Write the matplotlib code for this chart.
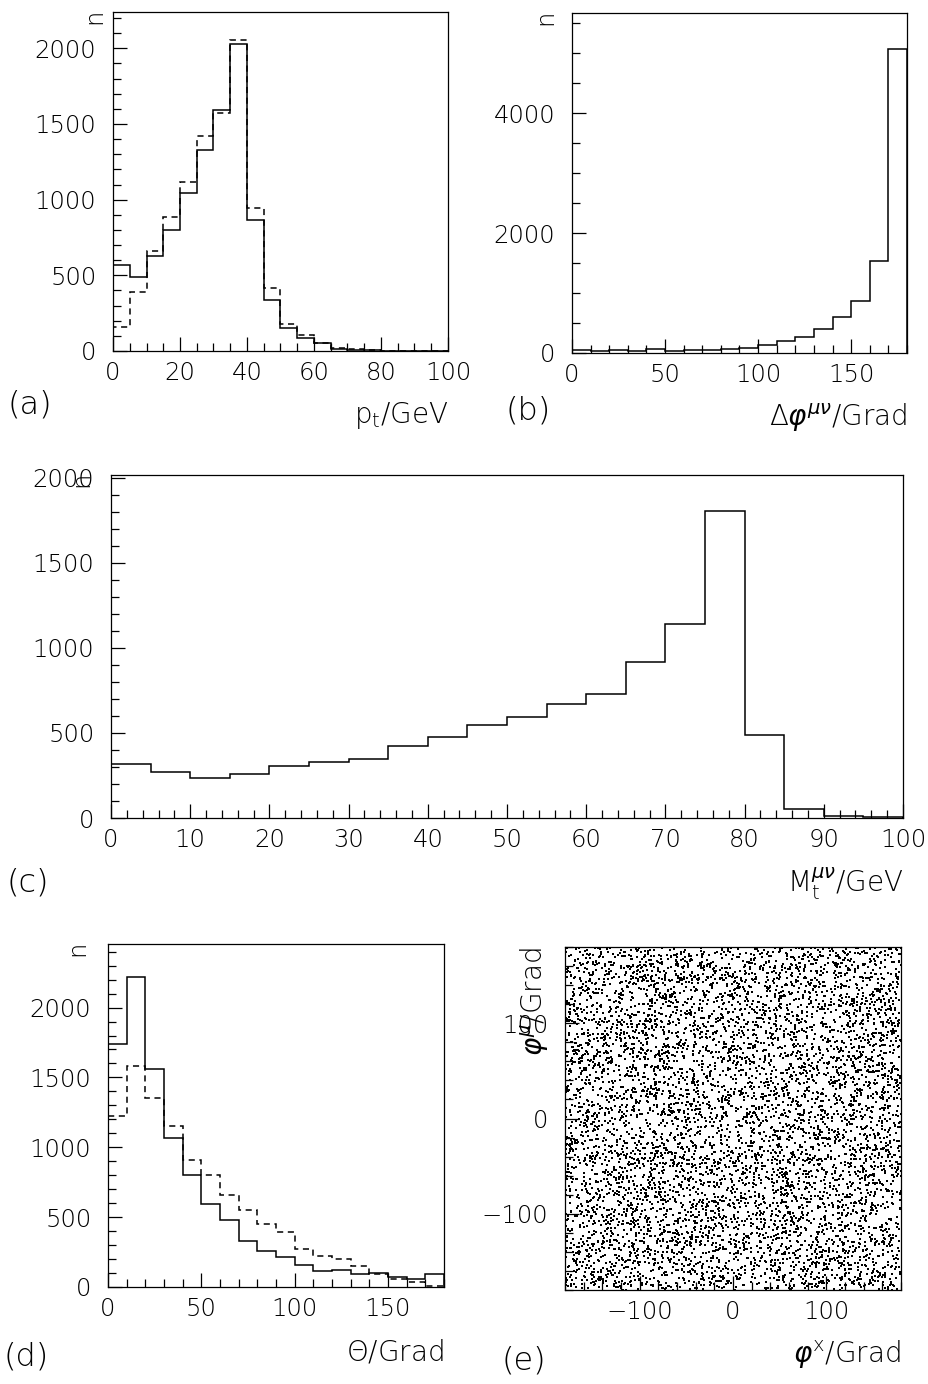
import numpy as np
import matplotlib
matplotlib.use("Agg")
import matplotlib.pyplot as plt
from matplotlib.ticker import MultipleLocator

# ---- data ----
# (a) transverse momentum, 5 GeV bins
pt_edges = np.linspace(0, 100, 21)
pt_solid = [569, 492, 631, 801, 1042, 1329, 1593, 2026, 867, 335,
            154, 88, 53, 15, 4, 4, 2, 0, 0, 0]
pt_dashed = [159, 391, 662, 887, 1117, 1419, 1571, 2057, 947, 413,
             181, 104, 53, 22, 11, 5, 1, 0, 0, 0]

# (b) azimuthal difference, 10 deg bins
dphi_edges = np.linspace(0, 180, 19)
dphi_counts = [45, 33, 50, 33, 67, 39, 45, 50, 67, 84,
               139, 206, 273, 407, 607, 869, 1532, 5069]

# (c) transverse mass, 5 GeV bins
mt_edges = np.linspace(0, 100, 21)
mt_counts = [318, 269, 233, 259, 308, 327, 349, 422, 477, 549,
             595, 667, 728, 918, 1140, 1805, 485, 51, 12, 3]

# (d) polar angle, 10 deg bins
theta_edges = np.linspace(0, 180, 19)
theta_solid = [1738, 2220, 1563, 1067, 800, 597, 482, 327, 258, 215,
               160, 112, 124, 93, 98, 72, 55, 91]
theta_dashed = [1222, 1580, 1353, 1150, 907, 800, 656, 549, 453, 394,
                270, 220, 200, 148, 91, 60, 36, 5]

# (e) phi_x vs phi_mu: a flat Monte Carlo cloud; single points can't be read,
# so a uniform sample of about the same size stands in for it
n_events = 7000
rng = np.random.default_rng(7)
phi_x = rng.uniform(-180, 180, n_events)
phi_mu = rng.uniform(-180, 180, n_events)

# ---- figure ----
W, H = 929, 1384
plt.rcParams["font.family"] = ["DejaVu Sans"]
plt.rcParams["font.weight"] = "light"
plt.rcParams["mathtext.fontset"] = "dejavusans"
fig = plt.figure(figsize=(W / 100, H / 100), dpi=100)

FS = 17.5    # tick labels
FSL = 20     # axis titles
FSP = 23     # panel letters
LW = 1.1


def make_axes(left, top, right, bottom):
    return fig.add_axes([left / W, 1 - bottom / H, (right - left) / W, (bottom - top) / H])


def style(ax, xmaj, xmin, ymaj, ymin):
    for s in ax.spines.values():
        s.set_linewidth(0.9)
    ax.xaxis.set_major_locator(MultipleLocator(xmaj))
    ax.xaxis.set_minor_locator(MultipleLocator(xmin))
    ax.yaxis.set_major_locator(MultipleLocator(ymaj))
    ax.yaxis.set_minor_locator(MultipleLocator(ymin))
    ax.tick_params(which="both", direction="in", top=False, right=False,
                   labelsize=FS, width=0.9)
    ax.tick_params(which="major", length=10)
    ax.tick_params(which="minor", length=5.5)
    ax.tick_params(axis="x", which="major", pad=7)
    ax.tick_params(axis="y", which="major", pad=12)


def labels(ax, xlabel, nx, letter, lx, ly):
    ax.text(1.0, -0.19, xlabel, transform=ax.transAxes, ha="right", va="center",
            fontsize=FSL)
    if nx is not None:
        ax.text(nx, 1.01, "n", transform=ax.transAxes, rotation=90, ha="center",
                va="top", fontsize=FS)
    fig.text(lx / W, 1 - ly / H, letter, ha="left", va="center", fontsize=FSP)


# (a)
ax = make_axes(113, 12, 448, 351)
ax.stairs(pt_solid, pt_edges, color="black", lw=LW)
ax.stairs(pt_dashed, pt_edges, color="black", lw=LW, ls=(0, (4, 3)))
ax.set_xlim(0, 100)
ax.set_ylim(0, 2240)
style(ax, 20, 5, 500, 100)
labels(ax, r"p$_{\rm t}$/GeV", -0.055, "(a)", 8, 405)

# (b)
ax = make_axes(572, 13, 907, 353)
ax.stairs(dphi_counts, dphi_edges, color="black", lw=LW)
ax.set_xlim(0, 180)
ax.set_ylim(0, 5670)
style(ax, 50, 10, 2000, 500)
labels(ax, r"$\Delta\varphi^{\mu\nu}$/Grad", -0.08, "(b)", 506, 410)

# (c)
ax = make_axes(111, 475, 903, 818)
ax.stairs(mt_counts, mt_edges, color="black", lw=LW)
ax.set_xlim(0, 100)
ax.set_ylim(0, 2015)
style(ax, 10, 2, 500, 100)
labels(ax, r"M$_{\rm t}^{\mu\nu}$/GeV", -0.038, "(c)", 6, 882)

# (d)
ax = make_axes(108, 944, 444, 1287)
ax.stairs(theta_solid, theta_edges, color="black", lw=LW)
ax.stairs(theta_dashed, theta_edges, color="black", lw=LW, ls=(0, (4, 3)))
ax.set_xlim(0, 180)
ax.set_ylim(0, 2455)
style(ax, 50, 10, 500, 100)
labels(ax, r"$\Theta$/Grad", -0.092, "(d)", 4, 1356)

# (e)
ax = make_axes(565, 947, 901, 1290)
ax.scatter(phi_x, phi_mu, s=1.6, marker="s", color="black", linewidths=0)
ax.set_xlim(-180, 180)
ax.set_ylim(-180, 180)
style(ax, 100, 20, 100, 20)
labels(ax, r"$\varphi^{\rm x}$/Grad", None, "(e)", 502, 1361)
ax.text(-0.09, 1.0, r"$\varphi^{\mu}$/Grad", transform=ax.transAxes, rotation=90,
        ha="center", va="top", fontsize=FSL)

fig.savefig("out.png", dpi=100)
